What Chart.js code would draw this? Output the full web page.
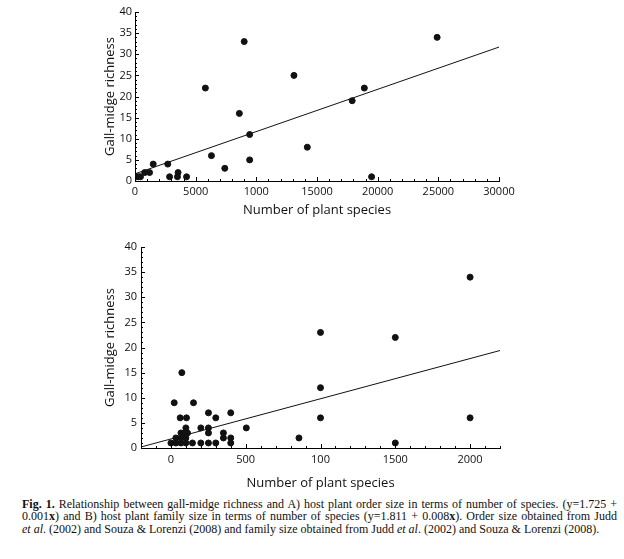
<!DOCTYPE html>
<html>
<head>
<meta charset="utf-8">
<script src="https://cdn.jsdelivr.net/npm/chart.js@4.4.0/dist/chart.umd.min.js"></script>
<style>
  body { margin: 0; background: #fff; width: 624px; height: 559px; position: relative; overflow: hidden; }
  canvas { position: absolute; }
  #chartA { left: 100px; top: 0px; }
  #chartB { left: 100px; top: 235px; }
  #caption {
    position: absolute; left: 22px; top: 498px; width: 595px;
    font-family: "Liberation Serif", "Times New Roman", serif;
    font-size: 12px; line-height: 12.4px; color: #111;
  }
  #caption .j { text-align: justify; text-align-last: justify; }
</style>
</head>
<body>
<canvas id="chartA" width="430" height="222"></canvas>
<canvas id="chartB" width="430" height="259"></canvas>
<div id="caption">
  <div class="j"><b>Fig. 1.</b> Relationship between gall-midge richness and A) host plant order size in terms of number of species. (y=1.725 +</div>
  <div class="j">0.001<b>x</b>) and B) host plant family size in terms of number of species (y=1.811 + 0.008<b>x</b>). Order size obtained from Judd</div>
  <div><i>et al</i>. (2002) and Souza &amp; Lorenzi (2008) and family size obtained from Judd <i>et al</i>. (2002) and Souza &amp; Lorenzi (2008).</div>
</div>
<script>
// A) order size vs gall-midge richness
const orderSize = [100, 300, 450, 800, 1200, 1500, 2700, 2850, 3500, 3550, 4250, 5800, 6300, 7400, 8600, 9000, 9450, 9450, 13100, 14200, 17900, 18900, 19500, 24900];
const orderRichness = [1, 1, 1, 2, 2, 4, 4, 1, 1, 2, 1, 22, 6, 3, 16, 33, 11, 5, 25, 8, 19, 22, 1, 34];
const orderFit = [[0, 1.7], [30000, 31.7]];
const orderTicks = [0, 5000, 10000, 15000, 20000, 25000, 30000];
const orderTickLabels = ['0', '5000', '1000', '15000', '20000', '25000', '30000'];

// B) family size vs gall-midge richness
const familySize = [0, 33, 67, 100, 144, 200, 251, 300, 400,
  33, 67, 100, 67, 89, 111,
  100, 200, 251, 504, 251, 351, 351, 400, 856,
  62, 104, 300, 251, 400, 22, 151, 73,
  1000, 1000, 1000, 1500, 1500, 2000, 2000];
const familyRichness = [1, 1, 1, 1, 1, 1, 1, 1, 1,
  2, 2, 2, 3, 3, 3,
  4, 4, 4, 4, 3, 3, 2, 2, 2,
  6, 6, 6, 7, 7, 9, 9, 15,
  23, 12, 6, 22, 1, 34, 6];
const familyFit = [[-200, 0.2], [2200, 19.4]];
const familyTicks = [0, 500, 1000, 1500, 2000];
const familyTickLabels = ['0', '500', '100', '1500', '2000'];

const richnessTicks = [0, 5, 10, 15, 20, 25, 30, 35, 40];

const tickFont = { family: '"Open Sans", sans-serif', size: 11 };
const titleFont = { family: '"Open Sans", sans-serif', size: 13 };

// small tick marks pointing into the plot, like the printed figure
const innerTicks = {
  id: 'innerTicks',
  afterDraw(chart, args, opts) {
    const { ctx, chartArea: a, scales: { x, y } } = chart;
    ctx.save();
    ctx.strokeStyle = '#000';
    ctx.lineWidth = 1;
    ctx.beginPath();
    for (let v = Math.ceil(x.min / opts.xMinor) * opts.xMinor; v <= x.max; v += opts.xMinor) {
      const px = Math.round(x.getPixelForValue(v)) + 0.5;
      const len = v % opts.xMajor === 0 ? 4 : 2;
      ctx.moveTo(px, a.bottom);
      ctx.lineTo(px, a.bottom - len);
    }
    for (let v = 0; v <= y.max; v += opts.yMinor) {
      const py = Math.round(y.getPixelForValue(v)) + 0.5;
      const len = v % opts.yMajor === 0 ? 4 : 2;
      ctx.moveTo(a.left, py);
      ctx.lineTo(a.left + len, py);
    }
    ctx.stroke();
    ctx.restore();
  }
};

function makeChart(id, xs, ys, fit, xMin, xMax, xTicks, xLabels, box, minor) {
  new Chart(document.getElementById(id), {
    type: 'scatter',
    data: {
      datasets: [{
        data: xs.map((v, i) => ({ x: v, y: ys[i] })),
        backgroundColor: '#111',
        borderColor: '#111',
        pointRadius: 3,
        pointHoverRadius: 3
      }, {
        type: 'line',
        data: fit.map(p => ({ x: p[0], y: p[1] })),
        borderColor: '#111',
        borderWidth: 1,
        pointRadius: 0,
        fill: false
      }]
    },
    options: {
      responsive: false,
      animation: false,
      layout: { padding: { top: 12, right: box.right, left: 0, bottom: 0 } },
      plugins: {
        legend: { display: false },
        tooltip: { enabled: false },
        innerTicks: minor
      },
      scales: {
        x: {
          type: 'linear',
          min: xMin,
          max: xMax,
          afterBuildTicks: s => { s.ticks = xTicks.map(v => ({ value: v })); },
          afterFit: s => { s.height = box.xHeight; s.paddingLeft = 0; s.paddingRight = 0; },
          grid: { display: false, drawTicks: false },
          border: { color: '#000', width: 1 },
          ticks: {
            color: '#111', font: tickFont, padding: box.xPad, maxRotation: 0, autoSkip: false,
            callback: v => xLabels[xTicks.indexOf(v)]
          },
          title: { display: true, text: 'Number of plant species', color: '#111', font: titleFont, padding: { top: 0, bottom: box.titlePad } }
        },
        y: {
          min: 0,
          max: 40,
          afterBuildTicks: s => { s.ticks = richnessTicks.map(v => ({ value: v })); },
          afterFit: s => { s.width = box.yWidth; s.paddingTop = 0; s.paddingBottom = 0; },
          grid: { display: false, drawTicks: false },
          border: { color: '#000', width: 1 },
          ticks: { color: '#111', font: tickFont, padding: box.yPad },
          title: { display: true, text: 'Gall-midge richness', color: '#111', font: titleFont, padding: { top: 2, bottom: 0 } }
        }
      }
    },
    plugins: [innerTicks]
  });
}

makeChart('chartA', orderSize, orderRichness, orderFit, 0, 30000, orderTicks, orderTickLabels,
  { right: 31, yWidth: 35, xHeight: 41, xPad: 4, yPad: 3, titlePad: 4 },
  { xMinor: 1000, xMajor: 5000, yMinor: 1, yMajor: 5 });
makeChart('chartB', familySize, familyRichness, familyFit, -200, 2200, familyTicks, familyTickLabels,
  { right: 30, yWidth: 41, xHeight: 46, xPad: 5, yPad: 4, titlePad: 3 },
  { xMinor: 100, xMajor: 500, yMinor: 1, yMajor: 5 });
</script>
</body>
</html>
